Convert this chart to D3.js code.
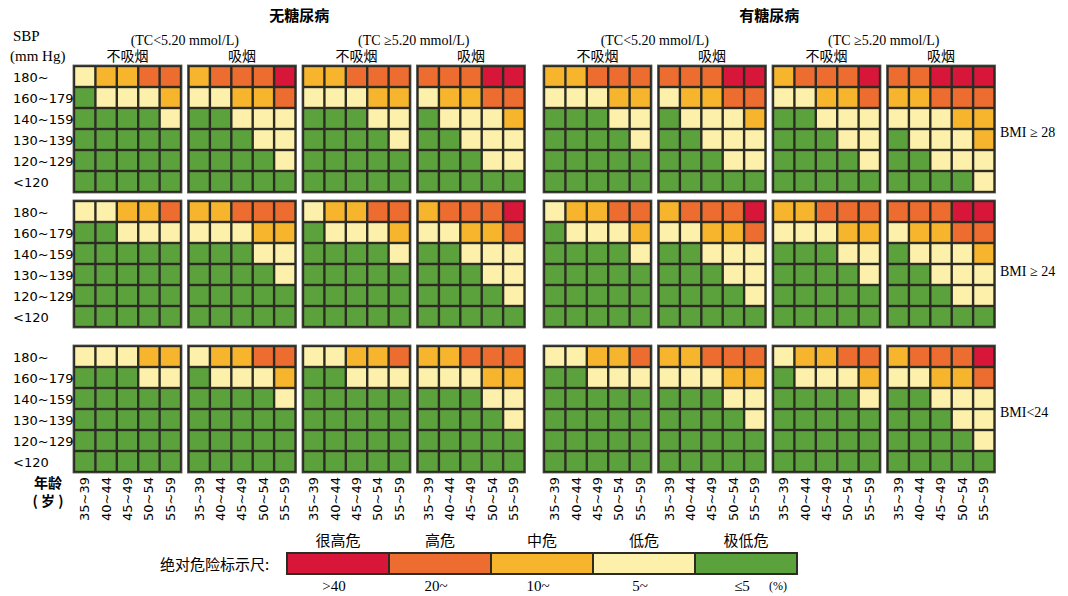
<!DOCTYPE html>
<html>
<head>
<meta charset="utf-8">
<script src="https://cdn.jsdelivr.net/npm/d3@7"></script>
<style>
body { margin: 0; background: #fff; }
.serif { font-family: "Liberation Serif", "Times New Roman", serif; }
.sans { font-family: "DejaVu Sans", sans-serif; }
.cjk { font-family: "Noto Sans CJK SC", sans-serif; }
</style>
</head>
<body>
<script>
// categories
var ages = ["35~39", "40~44", "45~49", "50~54", "55~59"];
var sbpLabels = ["180~", "160~179", "140~159", "130~139", "120~129", "<120"];
var bmiLabels = ["BMI \u2265 28", "BMI \u2265 24", "BMI<24"];
var diabetesLabels = ["无糖尿病", "有糖尿病"];
var tcLabels = ["(TC<5.20 mmol/L)", "(TC \u22655.20 mmol/L)"];
var smokeLabels = ["不吸烟", "吸烟"];

// risk levels: 0 = <5, 1 = 5~, 2 = 10~, 3 = 20~, 4 = >40
var levelNames = ["极低危", "低危", "中危", "高危", "很高危"];
var levelTicks = ["\u22645", "5~", "10~", "20~", ">40"];
var levelColors = ["#5ca23c", "#fcf0ab", "#f6b52c", "#ed6c2f", "#d8163a"];

// 8 panels per BMI row: [no diabetes: TC<5.2 non/smoke, TC>=5.2 non/smoke, diabetes: same]
// each panel = 6 SBP rows (180~ first) x 5 age columns
var riskBmi28 = [
  [[1,2,2,3,3],[0,1,1,1,2],[0,0,0,0,1],[0,0,0,0,0],[0,0,0,0,0],[0,0,0,0,0]],
  [[2,3,3,3,4],[1,1,2,2,3],[0,0,1,1,1],[0,0,0,1,1],[0,0,0,0,1],[0,0,0,0,0]],
  [[2,2,3,3,3],[1,1,1,2,2],[0,0,0,1,1],[0,0,0,0,1],[0,0,0,0,0],[0,0,0,0,0]],
  [[3,3,3,4,4],[1,2,2,3,3],[0,1,1,1,2],[0,0,1,1,1],[0,0,0,1,1],[0,0,0,0,0]],
  [[2,2,3,3,3],[1,1,1,2,2],[0,0,0,1,1],[0,0,0,0,1],[0,0,0,0,0],[0,0,0,0,0]],
  [[3,3,3,4,4],[1,2,2,3,3],[0,1,1,1,2],[0,0,1,1,1],[0,0,0,1,1],[0,0,0,0,0]],
  [[2,3,3,3,4],[1,1,2,2,3],[0,0,1,1,1],[0,0,0,1,1],[0,0,0,0,1],[0,0,0,0,0]],
  [[3,3,4,4,4],[2,2,3,3,3],[1,1,1,2,2],[0,1,1,1,2],[0,0,1,1,1],[0,0,0,0,1]]
];
var riskBmi24 = [
  [[1,1,2,2,3],[0,0,1,1,1],[0,0,0,0,0],[0,0,0,0,0],[0,0,0,0,0],[0,0,0,0,0]],
  [[2,2,3,3,3],[1,1,1,2,2],[0,0,0,1,1],[0,0,0,0,1],[0,0,0,0,0],[0,0,0,0,0]],
  [[1,2,2,3,3],[0,1,1,1,2],[0,0,0,0,1],[0,0,0,0,0],[0,0,0,0,0],[0,0,0,0,0]],
  [[2,3,3,3,4],[1,1,2,2,3],[0,0,1,1,1],[0,0,0,1,1],[0,0,0,0,1],[0,0,0,0,0]],
  [[1,2,2,3,3],[0,1,1,1,2],[0,0,0,0,1],[0,0,0,0,0],[0,0,0,0,0],[0,0,0,0,0]],
  [[2,3,3,3,4],[1,1,2,2,3],[0,0,1,1,1],[0,0,0,1,1],[0,0,0,0,1],[0,0,0,0,0]],
  [[2,2,3,3,3],[1,1,1,2,2],[0,0,0,1,1],[0,0,0,0,1],[0,0,0,0,0],[0,0,0,0,0]],
  [[3,3,3,4,4],[1,2,2,3,3],[0,1,1,1,2],[0,0,1,1,1],[0,0,0,1,1],[0,0,0,0,0]]
];
var riskBmiLow = [
  [[1,1,1,2,2],[0,0,0,1,1],[0,0,0,0,0],[0,0,0,0,0],[0,0,0,0,0],[0,0,0,0,0]],
  [[1,2,2,3,3],[0,1,1,1,2],[0,0,0,0,1],[0,0,0,0,0],[0,0,0,0,0],[0,0,0,0,0]],
  [[1,1,2,2,3],[0,0,1,1,1],[0,0,0,0,0],[0,0,0,0,0],[0,0,0,0,0],[0,0,0,0,0]],
  [[2,2,3,3,3],[1,1,1,2,2],[0,0,0,1,1],[0,0,0,0,1],[0,0,0,0,0],[0,0,0,0,0]],
  [[1,1,2,2,3],[0,0,1,1,1],[0,0,0,0,0],[0,0,0,0,0],[0,0,0,0,0],[0,0,0,0,0]],
  [[2,2,3,3,3],[1,1,1,2,2],[0,0,0,1,1],[0,0,0,0,1],[0,0,0,0,0],[0,0,0,0,0]],
  [[1,2,2,3,3],[0,1,1,1,2],[0,0,0,0,1],[0,0,0,0,0],[0,0,0,0,0],[0,0,0,0,0]],
  [[2,3,3,3,4],[1,1,2,2,3],[0,0,1,1,1],[0,0,0,1,1],[0,0,0,0,1],[0,0,0,0,0]]
];
var riskRows = [riskBmi28, riskBmi24, riskBmiLow];

var width = 1068, height = 596;
var panelW = 107, panelH = 126;
var gridColor = "#2c2c25";

var svg = d3.select("body").append("svg")
    .attr("width", width)
    .attr("height", height);

// layout scales
var groupX = d3.scalePoint().domain(diabetesLabels).range([74, 544]);
var panelX = d3.scaleBand().domain([0, 1, 2, 3]).range([0, 450.5]).paddingInner(0.0655);
var rowTop = d3.scaleOrdinal().domain(bmiLabels).range([66, 201, 346]);
var cellX = d3.scaleBand().domain(ages).range([0, panelW]);
var cellY = d3.scaleBand().domain(sbpLabels).range([0, panelH]);
var color = d3.scaleOrdinal().domain([0, 1, 2, 3, 4]).range(levelColors);

function panelLeft(i) {
    return groupX(diabetesLabels[Math.floor(i / 4)]) + panelX(i % 4);
}

// headers
diabetesLabels.forEach(function(d) {
    var x0 = groupX(d);
    svg.append("text").attr("class", "cjk")
        .attr("x", x0 + 450.5 / 2).attr("y", 21)
        .attr("text-anchor", "middle")
        .style("font-size", "15px").style("font-weight", 600)
        .text(d);
    tcLabels.forEach(function(t, j) {
        var left = x0 + panelX(j * 2);
        var right = x0 + panelX(j * 2 + 1) + panelW;
        svg.append("text").attr("class", "serif")
            .attr("x", (left + right) / 2).attr("y", 45)
            .attr("text-anchor", "middle")
            .style("font-size", "14px")
            .text(t);
    });
});

for (var i = 0; i < 8; i++) {
    svg.append("text").attr("class", "cjk")
        .attr("x", panelLeft(i) + panelW / 2).attr("y", 61)
        .attr("text-anchor", "middle")
        .style("font-size", "14px")
        .text(smokeLabels[i % 2]);
}

svg.append("text").attr("class", "serif")
    .attr("x", 13).attr("y", 41)
    .style("font-size", "15px")
    .text("SBP");
svg.append("text").attr("class", "serif")
    .attr("x", 10).attr("y", 61)
    .style("font-size", "15px")
    .text("(mm Hg)");

// panels
bmiLabels.forEach(function(bmi, r) {
    var top = rowTop(bmi);
    riskRows[r].forEach(function(panel, i) {
        var g = svg.append("g")
            .attr("transform", "translate(" + panelLeft(i) + "," + top + ")");
        g.append("rect")
            .attr("x", -1).attr("y", -1)
            .attr("width", panelW + 2).attr("height", panelH + 2)
            .attr("fill", gridColor)
            .attr("stroke", "#55554c").attr("stroke-width", 0.8);
        var cells = [];
        panel.forEach(function(row, ri) {
            row.forEach(function(v, ci) {
                cells.push({ sbp: sbpLabels[ri], age: ages[ci], level: v });
            });
        });
        g.selectAll("rect.cell")
            .data(cells)
            .enter()
            .append("rect")
            .attr("class", "cell")
            .attr("x", function(d) { return cellX(d.age) + 1.2; })
            .attr("y", function(d) { return cellY(d.sbp) + 1.2; })
            .attr("width", cellX.bandwidth() - 2.4)
            .attr("height", cellY.bandwidth() - 2.4)
            .attr("fill", function(d) { return color(d.level); });
    });

    // SBP labels
    svg.selectAll(null)
        .data(sbpLabels)
        .enter()
        .append("text")
        .attr("class", "sans")
        .attr("x", 13)
        .attr("y", function(d) { return top + cellY(d) + cellY.bandwidth() / 2 + 1; })
        .attr("dominant-baseline", "central")
        .style("font-size", "13px")
        .text(function(d) { return d; });

    // BMI label
    svg.append("text").attr("class", "serif")
        .attr("x", 1000)
        .attr("y", top + panelH / 2 + (r === 1 ? 7 : 3))
        .attr("dominant-baseline", "central")
        .style("font-size", "14px")
        .text(bmi);
});

// age axis
for (var p = 0; p < 8; p++) {
    var left = panelLeft(p);
    svg.selectAll(null)
        .data(ages)
        .enter()
        .append("text")
        .attr("class", "sans")
        .attr("transform", function(d) {
            return "translate(" + (left + cellX(d) + cellX.bandwidth() / 2) + ",477) rotate(-90)";
        })
        .attr("text-anchor", "end")
        .attr("dominant-baseline", "central")
        .style("font-size", "13px")
        .text(function(d) { return d; });
}
svg.append("text").attr("class", "cjk")
    .attr("x", 48).attr("y", 488)
    .attr("text-anchor", "middle")
    .style("font-size", "14px").style("font-weight", 600)
    .text("年龄");
svg.append("text").attr("class", "cjk")
    .attr("x", 48).attr("y", 506)
    .attr("text-anchor", "middle")
    .style("font-size", "14px").style("font-weight", 600)
    .text("( 岁 )");

// legend
var legendLevels = [4, 3, 2, 1, 0];
var legendX = d3.scaleBand().domain(legendLevels).range([287, 797]);
var legendY = 553, legendH = 21;

svg.append("text").attr("class", "cjk")
    .attr("x", 160).attr("y", legendY + legendH / 2)
    .attr("dominant-baseline", "central")
    .style("font-size", "15px")
    .text("绝对危险标示尺:");

svg.append("rect")
    .attr("x", 286).attr("y", legendY - 1)
    .attr("width", 512).attr("height", legendH + 2)
    .attr("fill", gridColor);

svg.selectAll("rect.legend")
    .data(legendLevels)
    .enter()
    .append("rect")
    .attr("class", "legend")
    .attr("x", function(d) { return legendX(d) + 1; })
    .attr("y", legendY + 1)
    .attr("width", legendX.bandwidth() - 2)
    .attr("height", legendH - 2)
    .attr("fill", function(d) { return color(d); });

svg.selectAll("text.lname")
    .data(legendLevels)
    .enter()
    .append("text")
    .attr("class", "lname cjk")
    .attr("x", function(d) { return legendX(d) + legendX.bandwidth() / 2; })
    .attr("y", 546)
    .attr("text-anchor", "middle")
    .style("font-size", "15px")
    .text(function(d) { return levelNames[d]; });

svg.selectAll("text.ltick")
    .data(legendLevels)
    .enter()
    .append("text")
    .attr("class", "ltick serif")
    .attr("x", function(d) { return legendX(d) + legendX.bandwidth() / 2 - 4; })
    .attr("y", 591)
    .attr("text-anchor", "middle")
    .style("font-size", "15px")
    .text(function(d) { return levelTicks[d]; });

svg.append("text").attr("class", "serif")
    .attr("x", 769).attr("y", 590)
    .style("font-size", "12px")
    .text("(%)");
</script>
</body>
</html>
